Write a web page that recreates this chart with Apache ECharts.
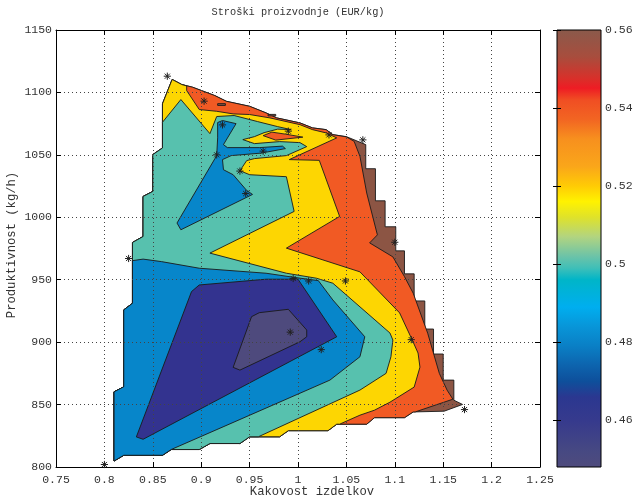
<!DOCTYPE html>
<html><head><meta charset="utf-8">
<script src="https://cdn.jsdelivr.net/npm/echarts@6/dist/echarts.min.js"></script>
<style>html,body{margin:0;padding:0;background:#fff}#c{width:634px;height:499px}</style>
</head><body><div id="c"></div>
<script>
// ---------- DATA (x = Kakovost izdelkov, y = Produktivnost kg/h) ----------
const xTickValues = [0.75, 0.8, 0.85, 0.9, 0.95, 1, 1.05, 1.1, 1.15, 1.2, 1.25];
const yTickValues = [800, 850, 900, 950, 1000, 1050, 1100, 1150];
const colorbarTicks = [0.46, 0.48, 0.5, 0.52, 0.54, 0.56];
const colorbarMin = 0.448, colorbarMax = 0.56;

// measured points (asterisks)
const pointQuality = [0.800,0.865,0.903,0.922,0.916,0.964,0.990,0.940,0.946,1.032,1.067,0.825,0.995,1.011,1.049,1.100,1.117,1.172,0.992,1.024];
const pointProductivity = [802,1113,1093,1074,1050,1053,1069,1037,1019,1066,1062,967,951,949,949,980,902,846,908,894];

// contour regions (level sets), vertices in data units
const regionAll = [[0.810,804.8],[0.820,809.4],[0.860,809.4],[0.869,814.0],[0.898,814.0],[0.909,818.8],[0.940,818.8],[0.950,824.2],[0.981,824.2],[0.990,829.1],[1.031,829.1],[1.040,834.3],[1.071,834.3],[1.079,839.5],[1.110,839.5],[1.119,844.1],[1.151,844.7],[1.170,850.1],
 [1.161,853.5],[1.161,869.6],[1.150,869.6],[1.150,890.5],[1.140,890.5],[1.140,910.5],[1.131,910.5],[1.131,933.0],[1.120,933.0],[1.120,954.7],[1.110,954.7],[1.110,973.1],[1.101,973.1],[1.101,992.4],[1.090,992.4],[1.090,1013.2],[1.080,1013.2],[1.080,1038.9],[1.070,1038.9],[1.070,1058.2],
 [1.060,1061.4],[1.050,1064.6],[1.036,1066.2],[1.029,1070.2],[1.015,1071.6],[1.002,1075.6],[0.978,1079.6],[0.967,1083.6],[0.950,1088.9],[0.926,1092.9],[0.914,1097.5],[0.902,1101.0],[0.891,1104.2],[0.880,1106.3],[0.870,1110.4],
 [0.860,1090.9],[0.860,1055.5],[0.850,1050.2],[0.850,1020.7],[0.840,1016.7],[0.840,984.6],[0.829,979.8],[0.829,931.1],[0.820,925.8],[0.820,864.2],[0.810,860.2]];

const regionBelow055 = [[0.810,804.8],[0.820,809.4],[0.860,809.4],[0.869,814.0],[0.898,814.0],[0.909,818.8],[0.940,818.8],[0.950,824.2],[0.981,824.2],[0.990,829.1],[1.031,829.1],[1.040,834.3],[1.071,834.3],[1.079,839.5],[1.110,839.5],[1.119,844.1],[1.121,844.1],
 [1.160,854.3],[1.154,861.6],[1.146,875.0],[1.134,907.1],[1.119,939.2],[1.110,952.5],[1.098,968.3],[1.074,979.5],[1.082,985.9],[1.071,1019.4],[1.064,1048.8],[1.058,1060.8],[1.050,1064.4],
 [1.036,1066.2],[1.029,1070.2],[1.015,1071.6],[1.002,1075.6],[0.978,1079.6],[0.967,1083.6],[0.950,1088.9],[0.926,1092.9],[0.914,1097.5],[0.902,1101.0],[0.891,1104.2],[0.880,1106.3],[0.870,1110.4],
 [0.860,1090.9],[0.860,1055.5],[0.850,1050.2],[0.850,1020.7],[0.840,1016.7],[0.840,984.6],[0.829,979.8],[0.829,931.1],[0.820,925.8],[0.820,864.2],[0.810,860.2]];

const regionBelow053 = [[0.810,804.8],[0.820,809.4],[0.860,809.4],[0.869,814.0],[0.898,814.0],[0.909,818.8],[0.940,818.8],[0.950,824.2],[0.981,824.2],[0.990,829.1],[1.031,829.1],[1.040,834.3],[1.043,834.3],
 [1.064,841.5],[1.079,845.5],[1.095,851.9],[1.120,864.0],[1.126,880.0],[1.124,891.3],[1.118,901.7],[1.105,923.4],[1.064,956.3],[0.988,975.3],[1.043,1000.7],[1.022,1045.6],[0.991,1046.2],[1.040,1063.6],
 [1.029,1067.6],[1.015,1070.2],[1.002,1074.2],[0.971,1079.6],[0.950,1082.3],[0.933,1082.8],[0.916,1084.9],[0.898,1086.3],[0.885,1101.5],[0.885,1105.2],[0.880,1106.3],[0.870,1110.4],
 [0.860,1090.9],[0.860,1055.5],[0.850,1050.2],[0.850,1020.7],[0.840,1016.7],[0.840,984.6],[0.829,979.8],[0.829,931.1],[0.820,925.8],[0.820,864.2],[0.810,860.2]];

const regionBelow051 = [[0.810,804.8],[0.820,809.4],[0.860,809.4],[0.869,814.0],[0.898,814.0],[0.909,818.8],[0.940,818.8],[0.950,824.2],[0.959,824.2],
 [1.064,861.6],[1.091,875.0],[1.096,888.3],[1.098,901.7],[1.095,907.3],[1.036,947.2],[1.019,951.2],[0.988,955.2],[0.909,971.3],[0.996,1004.7],[0.988,1032.5],[0.950,1034.1],[0.940,1037.3],
 [0.947,1045.4],[0.955,1047.0],[0.988,1049.4],[1.009,1056.6],[1.002,1059.8],[0.981,1060.6],[0.955,1059.0],[0.943,1062.2],[0.955,1064.6],[0.965,1067.8],[0.979,1070.6],[0.993,1070.2],[0.979,1072.6],
 [0.958,1076.7],[0.934,1081.5],[0.916,1080.7],[0.909,1067.0],[0.879,1094.3],[0.860,1076.1],
 [0.860,1055.5],[0.850,1050.2],[0.850,1020.7],[0.840,1016.7],[0.840,984.6],[0.829,979.8],[0.829,931.1],[0.820,925.8],[0.820,864.2],[0.810,860.2]];

const regionBelow049Low = [[0.829,965.3],[0.829,931.1],[0.820,925.8],[0.820,864.2],[0.810,860.2],[0.810,804.8],[0.820,809.4],[0.860,809.4],[0.869,814.0],
 [0.936,836.7],[1.033,869.6],[1.064,888.3],[1.069,904.3],[1.036,933.8],[1.021,949.3],[1.010,950.4],[0.995,952.0],[0.967,955.2],[0.898,959.2],[0.859,964.5],[0.840,966.5]];

const regionBelow049High = [[0.917,1075.9],[0.922,1077.5],[0.936,1075.0],[0.923,1058.2],[0.927,1055.8],[0.960,1055.8],[0.984,1057.0],[0.987,1055.0],[0.962,1051.4],[0.931,1049.4],[0.922,1046.2],
 [0.923,1038.1],[0.933,1034.1],[0.947,1021.5],[0.953,1018.3],[0.879,990.0],[0.875,995.4],[0.916,1049.4],[0.917,1063.6]];

const regionBelow047 = [[0.890,940.5],[0.898,945.8],[0.967,950.4],[1.000,950.4],[1.040,904.3],[0.840,822.2],[0.833,824.1]];

const regionBelow046 = [[0.952,920.4],[0.960,923.6],[0.990,926.3],[1.009,909.7],[1.009,904.3],[1.002,900.3],[0.940,877.6],[0.933,879.8]];

const islandAbove053 = [[0.964,1065.4],[0.973,1068.2],[0.987,1066.6],[1.005,1064.2],[0.977,1061.8]];
const islandAbove055a = [[0.917,1089.6],[0.925,1089.6],[0.925,1091.0],[0.917,1091.0]];
const islandAbove055b = [[0.969,1081.2],[0.977,1081.2],[0.977,1082.4],[0.969,1082.4]];

// ---------- STYLE ----------
const C = {brown:'#8c5544', orange:'#f15a24', yellow:'#fdd602', teal:'#57c1ae', blue:'#0786ca', dark:'#33338f', slate:'#4e4a7d'};
const layers = [
  {poly: regionAll, color: C.brown},
  {poly: regionBelow055, color: C.orange},
  {poly: regionBelow053, color: C.yellow},
  {poly: regionBelow051, color: C.teal},
  {poly: regionBelow049Low, color: C.blue},
  {poly: regionBelow049High, color: C.blue},
  {poly: regionBelow047, color: C.dark},
  {poly: regionBelow046, color: C.slate},
  {poly: islandAbove053, color: C.orange},
  {poly: islandAbove055a, color: C.brown},
  {poly: islandAbove055b, color: C.brown}
];
const cmapStops = [
  [0.560,'#8a5a4b'],[0.553,'#a84d3d'],[0.5475,'#d8302a'],[0.545,'#ee1c24'],[0.542,'#f04e23'],[0.537,'#f26522'],
  [0.532,'#f7901e'],[0.525,'#faa61a'],[0.520,'#ffcb05'],[0.516,'#fff200'],[0.512,'#dfe22a'],[0.507,'#b2d480'],
  [0.502,'#6cc3a8'],[0.499,'#3fbfb8'],[0.496,'#00b5c8'],[0.489,'#00aeef'],[0.484,'#0895d8'],[0.479,'#0a7fc5'],
  [0.474,'#0d63ad'],[0.470,'#0e4f9b'],[0.466,'#2b3790'],[0.460,'#363a8d'],[0.452,'#474982'],[0.448,'#4f4b7d']
];

const FONT = 'Liberation Mono';
const TXT = '#333';
const chart = echarts.init(document.getElementById('c'));

const mainX = (pos, labels) => ({
  gridIndex:0, type:'value', position:pos, min:xTickValues[0], max:xTickValues[xTickValues.length-1], interval:0.05,
  z:10,
  axisLine:{show:true, onZero:false, lineStyle:{color:'#000', width:1}},
  axisTick:{show:true, inside:true, length:5, lineStyle:{color:'#000'}},
  axisLabel:{show:labels, margin:7, color:TXT, fontFamily:FONT, fontSize:11.5, formatter:v => String(+(+v).toFixed(2))},
  splitLine:{show:labels, lineStyle:{type:[1,3], color:'#444', width:1}}
});
const mainY = (pos, labels) => ({
  gridIndex:0, type:'value', position:pos, min:yTickValues[0], max:yTickValues[yTickValues.length-1], interval:50,
  z:10,
  axisLine:{show:true, onZero:false, lineStyle:{color:'#000', width:1}},
  axisTick:{show:true, inside:true, length:5, lineStyle:{color:'#000'}},
  axisLabel:{show:labels, margin:4, color:TXT, fontFamily:FONT, fontSize:11.5, formatter:v => String(Math.round(v))},
  splitLine:{show:labels, lineStyle:{type:[1,3], color:'#444', width:1}}
});
const cbY = (pos, labels) => ({
  gridIndex:1, type:'value', position:pos, min:colorbarMin, max:colorbarMax, z:10,
  axisLine:{show:false},
  axisTick:{show:true, inside:true, length:4, customValues:colorbarTicks, lineStyle:{color:'#000'}},
  axisLabel:{show:labels, margin:4, color:TXT, fontFamily:FONT, fontSize:11.5, customValues:colorbarTicks,
             formatter:v => String(+(+v).toFixed(2))},
  splitLine:{show:false}
});
const txt = (text, x, y, size, rot) => ({
  type:'text', x:x, y:y, rotation:rot || 0,
  style:{text:text, fill:TXT, fontFamily:FONT, fontSize:size,
         align:'center', verticalAlign:'middle', textAlign:'center', textVerticalAlign:'middle'}
});

chart.setOption({
  animation:false,
  backgroundColor:'#fff',
  grid:[
    {left:56, top:30, width:484, height:437, outerBoundsMode:'none', containLabel:false},
    {left:557, top:30, width:44, height:437, outerBoundsMode:'none', containLabel:false}
  ],
  xAxis:[
    mainX('bottom', true), mainX('top', false),
    {gridIndex:1, type:'value', min:0, max:1, show:false}
  ],
  yAxis:[
    mainY('left', true), mainY('right', false),
    cbY('right', true), cbY('left', false)
  ],
  graphic:[
    txt('Stroški proizvodnje (EUR/kg)', 298, 12, 10.3),
    txt('Kakovost izdelkov', 312, 492, 12.2),
    txt('Produktivnost (kg/h)', 12, 245, 12.2, Math.PI/2)
  ],
  series:[
    {
      type:'custom', xAxisIndex:0, yAxisIndex:0, silent:true, z:2,
      data: layers.map((l,i) => [l.poly[0][0], l.poly[0][1], i]),
      encode:{x:0, y:1},
      renderItem:(params, api) => {
        const L = layers[api.value(2)];
        return {type:'polygon', shape:{points:L.poly.map(p => api.coord(p))},
                style:{fill:L.color, stroke:'#1a1a1a', lineWidth:0.9}};
      }
    },
    {
      type:'custom', xAxisIndex:0, yAxisIndex:0, silent:true, z:20,
      data: pointQuality.map((q,i) => [q, pointProductivity[i]]),
      encode:{x:0, y:1},
      renderItem:(params, api) => {
        const c = api.coord([api.value(0), api.value(1)]);
        const r = 3.6, ch = [];
        for (let k = 0; k < 4; k++) {
          const a = k * Math.PI / 4, dx = r*Math.cos(a), dy = r*Math.sin(a);
          ch.push({type:'line', shape:{x1:c[0]-dx, y1:c[1]-dy, x2:c[0]+dx, y2:c[1]+dy},
                   style:{stroke:'#222', lineWidth:1}});
        }
        return {type:'group', children:ch};
      }
    },
    {
      type:'custom', xAxisIndex:2, yAxisIndex:2, silent:true, z:2,
      data:[[0, colorbarMin]],
      encode:{x:0, y:1},
      renderItem:(params, api) => {
        const p0 = api.coord([0, colorbarMax]), p1 = api.coord([1, colorbarMin]);
        const stops = cmapStops.map(s => ({offset:(colorbarMax - s[0])/(colorbarMax - colorbarMin), color:s[1]}));
        return {type:'rect', shape:{x:p0[0], y:p0[1], width:p1[0]-p0[0], height:p1[1]-p0[1]},
                style:{fill:new echarts.graphic.LinearGradient(0,0,0,1,stops), stroke:'#000', lineWidth:1}};
      }
    }
  ]
});
</script>
</body></html>
